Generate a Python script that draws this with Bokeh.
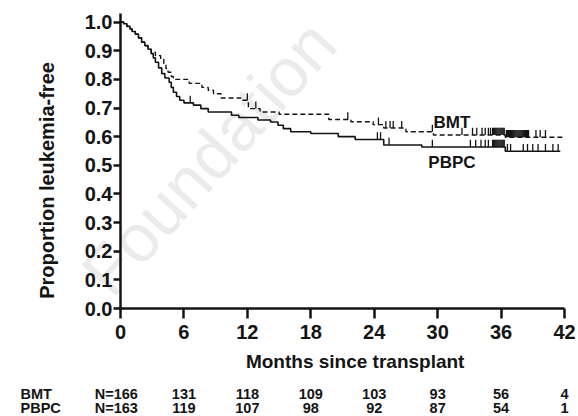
import numpy as np
from bokeh.plotting import figure
from bokeh.models import Range1d, Label, FixedTicker, PrintfTickFormatter, ColumnDataSource
from bokeh.core.properties import value
from bokeh.embed import file_html
from bokeh.resources import INLINE

# ---- data ----
months_ticks = [0, 6, 12, 18, 24, 30, 36, 42]
prop_ticks = [0.0, 0.1, 0.2, 0.3, 0.4, 0.5, 0.6, 0.7, 0.8, 0.9, 1.0]

bmt_time = [0, 0.3, 0.6, 0.9, 1.1, 1.4, 1.7, 2.0, 2.3, 2.6, 2.9, 3.3, 3.8, 4.1, 4.3, 4.5, 4.8, 5.0,
            6.5, 7.7, 8.3, 8.8, 9.5, 11.4, 12.1, 13.2, 15.0, 19.7, 21.8, 23.9, 24.9, 27.0, 29.6, 36.4, 41.8]
bmt_surv = [1.0, 0.994, 0.985, 0.976, 0.967, 0.958, 0.945, 0.93, 0.918, 0.905, 0.895, 0.883, 0.87, 0.855,
            0.838, 0.825, 0.81, 0.80, 0.786, 0.772, 0.762, 0.75, 0.735, 0.727, 0.698, 0.686, 0.678, 0.66,
            0.652, 0.642, 0.63, 0.617, 0.606, 0.598, 0.598]
bmt_censor = [12.0, 12.8, 21.5, 24.4, 25.1, 25.5, 25.8, 26.6, 29.5, 32.3, 33.3, 33.7, 34.2, 34.5, 34.8, 35.0,
              35.2, 35.3, 35.4, 35.5, 35.6, 35.7, 35.8, 35.9, 36.0, 36.1, 36.2, 36.3, 36.5, 36.6, 36.7,
              36.8, 36.9, 37.0, 37.1, 37.2, 37.3, 37.4, 37.5, 37.6, 37.7, 37.8, 37.9, 38.0, 38.1, 38.2,
              38.3, 38.4, 38.5, 38.6, 39.3, 39.7, 40.2]

pbpc_time = [0, 0.3, 0.6, 0.9, 1.1, 1.4, 1.7, 2.0, 2.3, 2.6, 2.9, 3.1, 3.3, 3.6, 3.9, 4.2, 4.6, 4.8, 5.0,
             5.3, 5.6, 6.0, 6.9, 7.6, 8.3, 10.5, 11.2, 13.0, 14.2, 14.9, 15.4, 16.1, 18.0, 20.6, 22.2,
             24.9, 28.5, 36.4, 41.6]
pbpc_surv = [1.0, 0.994, 0.985, 0.976, 0.967, 0.958, 0.945, 0.93, 0.918, 0.905, 0.89, 0.875, 0.86, 0.84,
             0.82, 0.805, 0.79, 0.772, 0.755, 0.74, 0.727, 0.718, 0.71, 0.698, 0.686, 0.675, 0.667, 0.658,
             0.651, 0.64, 0.628, 0.617, 0.611, 0.60, 0.59, 0.571, 0.564, 0.549, 0.549]
pbpc_censor = [6.6, 24.3, 24.6, 25.4, 29.5, 33.1, 33.6, 34.1, 34.5, 34.8, 35.2, 35.3, 35.4, 35.5, 35.6,
               35.7, 35.8, 35.9, 36.0, 36.1, 36.2, 36.3, 36.6, 36.9, 38.1, 38.5, 39.0, 39.5, 40.2, 40.9, 41.4]

risk_groups = ["BMT", "PBPC"]
bmt_at_risk = ["N=166", "131", "118", "109", "103", "93", "56", "4"]
pbpc_at_risk = ["N=163", "119", "107", "98", "92", "87", "54", "1"]

FONT = "Liberation Sans"
INK = "#141414"
W, H = 578, 416
X0_PX, X42_PX = 120, 564      # pixel columns of month 0 and month 42
Y0_PX, Y1_PX = 308, 21.6      # pixel rows of proportion 0 and 1
ppm = (X42_PX - X0_PX) / 42.0
ppu = Y0_PX - Y1_PX

p = figure(width=W, height=H,
           x_range=Range1d(-X0_PX / ppm, 42 + (W - X42_PX) / ppm),
           y_range=Range1d(-(H - Y0_PX) / ppu, Y0_PX / ppu),
           output_backend="svg", toolbar_location=None,
           min_border=0, min_border_left=0, min_border_right=0, min_border_top=0, min_border_bottom=0)
p.outline_line_color = None
p.grid.visible = False

# faint publisher watermark
p.add_layout(Label(x=8.32, y=0.527, text="Foundation", angle=0.838, text_align="center",
                   text_baseline="middle", text_font=FONT, text_font_size="68px",
                   text_color="#ebebeb", level="underlay"))

# axes drawn at the data origin
for ax in (p.xaxis, p.yaxis):
    ax.fixed_location = 0
    ax.axis_line_width = 2.5
    ax.axis_line_color = INK
    ax.major_tick_line_width = 2.5
    ax.major_tick_line_color = INK
    ax.minor_tick_line_color = None
    ax.major_tick_in = 0
    ax.major_label_text_font = FONT
    ax.major_label_text_font_style = "bold"
    ax.major_label_text_font_size = "20px"
    ax.major_label_text_color = INK
p.xaxis.ticker = FixedTicker(ticks=months_ticks)
p.yaxis.ticker = FixedTicker(ticks=prop_ticks)
p.yaxis.formatter = PrintfTickFormatter(format="%.1f")
p.xaxis.bounds = (0, 42)
p.yaxis.bounds = (0, 1.03)
p.xaxis.major_tick_out = 10
p.yaxis.major_tick_out = 7
p.xaxis.major_label_standoff = 6
p.yaxis.major_label_standoff = 1

# axis titles
p.add_layout(Label(x=22.2, y=-0.185, text="Months since transplant", text_align="center",
                   text_baseline="middle", text_font=FONT, text_font_style="bold",
                   text_font_size="19px", text_color=INK))
p.add_layout(Label(x=-7.0, y=0.447, text="Proportion leukemia-free", angle=np.pi / 2,
                   text_align="center", text_baseline="middle", text_font=FONT,
                   text_font_style="bold", text_font_size="20px", text_color=INK))

# curves
p.step(x=bmt_time, y=bmt_surv, mode="after", line_color=INK, line_width=1.4, line_dash="5 3")
p.step(x=pbpc_time, y=pbpc_surv, mode="after", line_color=INK, line_width=1.6)

def surv_at(times, survs, t):
    idx = np.searchsorted(np.asarray(times), np.asarray(t), side="right") - 1
    return np.asarray(survs)[idx]

tick_h = 0.025
for t_list, times, survs in ((bmt_censor, bmt_time, bmt_surv), (pbpc_censor, pbpc_time, pbpc_surv)):
    s = surv_at(times, survs, t_list)
    src = ColumnDataSource(dict(x0=t_list, y0=s, x1=t_list, y1=s + tick_h))
    p.segment(x0="x0", y0="y0", x1="x1", y1="y1", source=src, line_color=INK, line_width=1.3)

# curve labels
p.add_layout(Label(x=31.35, y=0.649, text="BMT", text_align="center", text_baseline="middle",
                   text_font=FONT, text_font_style="bold", text_font_size="17px", text_color=INK))
p.add_layout(Label(x=31.35, y=0.51, text="PBPC", text_align="center", text_baseline="middle",
                   text_font=FONT, text_font_style="bold", text_font_size="17px", text_color=INK))

# number-at-risk table
row_y = {"BMT": -0.297, "PBPC": -0.346}
for grp, counts in zip(risk_groups, (bmt_at_risk, pbpc_at_risk)):
    p.text(x=[-9.46], y=[row_y[grp]], text=[grp], text_align="left", text_baseline="middle",
           text_font=value(FONT), text_font_style="bold", text_font_size="14.5px", text_color=INK)
    xs = [m - 0.4 if c.startswith("N=") else m for m, c in zip(months_ticks, counts)]
    p.text(x=xs, y=[row_y[grp]] * len(xs), text=counts, text_align="center", text_baseline="middle",
           text_font=value(FONT), text_font_style="bold", text_font_size="14.5px", text_color=INK)

open("out.html", "w").write(file_html(p, INLINE))
